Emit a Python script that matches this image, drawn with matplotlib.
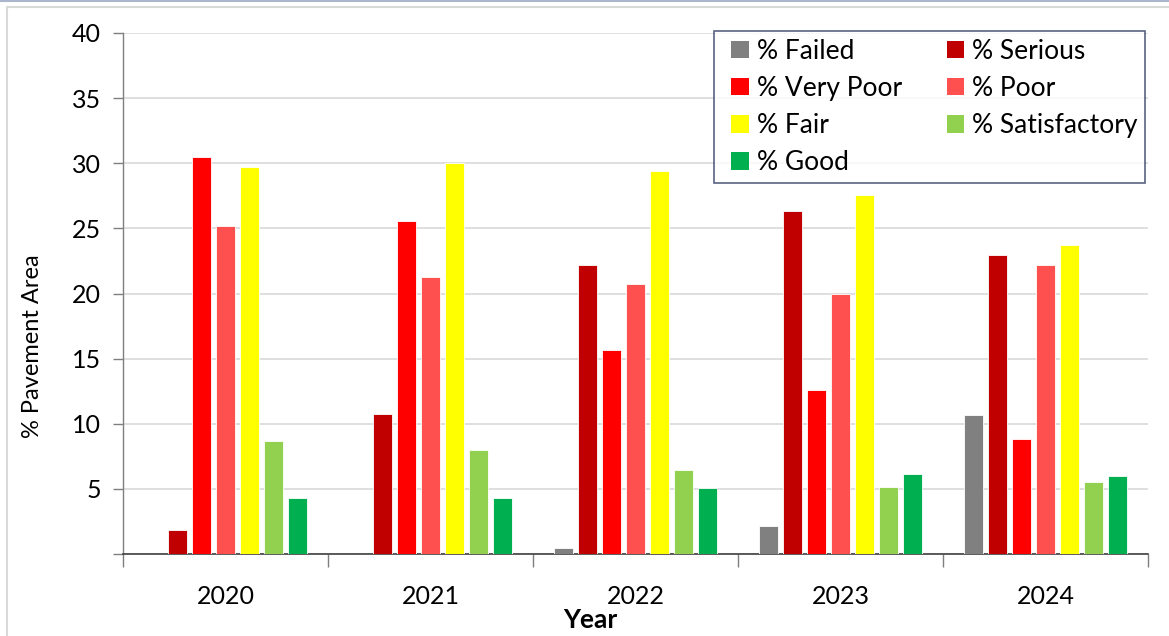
import numpy as np
import matplotlib.pyplot as plt
from matplotlib.patches import Rectangle, Patch
from matplotlib.lines import Line2D
from matplotlib.legend_handler import HandlerPatch

plt.rcParams['font.family'] = ['Lato', 'DejaVu Sans']

# data
years = ['2020', '2021', '2022', '2023', '2024']
labels = ['% Failed', '% Serious', '% Very Poor', '% Poor',
          '% Fair', '% Satisfactory', '% Good']
failed = [0.0, 0.0, 0.45, 2.15, 10.7]
serious = [1.85, 10.75, 22.2, 26.3, 22.95]
very_poor = [30.45, 25.6, 15.7, 12.6, 8.85]
poor = [25.2, 21.3, 20.7, 20.0, 22.2]
fair = [29.7, 30.0, 29.4, 27.6, 23.7]
satisfactory = [8.65, 8.0, 6.45, 5.15, 5.5]
good = [4.3, 4.3, 5.1, 6.15, 6.0]
colors = ['#808080', '#C00000', '#FF0000', '#FF5050',
          '#FFFF00', '#92D050', '#00B050']

series = [failed, serious, very_poor, poor, fair, satisfactory, good]

fig = plt.figure(figsize=(11.69, 6.36), dpi=100)
ax = fig.add_axes([123/1169, 1-554/636, (1148-123)/1169, (554-33)/636])

# screenshot frame
fig.patches.append(Rectangle((7/1169, -0.1), 1.2, 1-7/636+0.1,
                             transform=fig.transFigure, fill=False,
                             edgecolor='#D9D9D9', linewidth=1.5, zorder=0))
fig.lines.append(Line2D([0, 1], [0.999, 0.999], transform=fig.transFigure,
                        color='#A9B6CC', linewidth=1.5))

x = np.arange(len(years))
step = 24/205
width = 19/205
for i, (vals, c) in enumerate(zip(series, colors)):
    off = (i - 3) * step
    ax.bar(x + off, vals, width, color=c, edgecolor='white',
           linewidth=0.6, zorder=3)

ax.set_xlim(-0.5, 4.5)
ax.set_ylim(0, 40)
ax.set_yticks(np.arange(0, 41, 5))
ax.set_yticklabels([''] + [str(v) for v in range(5, 41, 5)])
ax.yaxis.grid(True, color='#D9D9D9', linewidth=1.2, zorder=0)
ax.tick_params(axis='y', labelsize=18, length=7, width=1, color='#7F7F7F',
               pad=9)

ax.set_xticks(np.arange(-0.5, 5, 1))
ax.set_xticklabels([])
ax.set_xticks(x, minor=True)
ax.set_xticklabels(years, minor=True)
ax.tick_params(axis='x', which='major', length=9, width=1, color='#7F7F7F')
ax.tick_params(axis='x', which='minor', length=0, labelsize=18, pad=22)

for s in ['top', 'right']:
    ax.spines[s].set_visible(False)
ax.spines['left'].set_color('#7F7F7F')
ax.spines['bottom'].set_color('#404040')
ax.spines['left'].set_linewidth(1)
ax.spines['bottom'].set_linewidth(1.2)

fig.text(33/1169, 1-346/636, '% Pavement Area', rotation=90,
         ha='center', va='center', fontsize=17)
fig.text(590/1169, 1-620/636, 'Year', ha='center', va='center',
         fontsize=19, fontweight='bold')


# square legend marker pushed to the right end of the handle box
def square(legend, orig_handle, xdescent, ydescent, width, height, fontsize):
    s = 0.65 * fontsize
    return Rectangle((-xdescent + width - s, -ydescent + (height - s) / 2),
                     s, s)


# legend, filled row by row like the original
order = [0, 2, 4, 6, 1, 3, 5]
handles = [Patch(facecolor=colors[i], edgecolor='none') for i in order]
leg = ax.legend(handles, [labels[i] for i in order], ncol=2,
                loc='upper right', bbox_to_anchor=(1145/1169, 1-31/636),
                bbox_transform=fig.transFigure, fontsize=19,
                frameon=True, fancybox=False, handlelength=1.0,
                handleheight=0.65, handletextpad=0.3, columnspacing=1.35,
                labelspacing=0.46, borderpad=0.3, borderaxespad=0,
                handler_map={Patch: HandlerPatch(patch_func=square)})
leg.get_frame().set_edgecolor('#2F3B63')
leg.get_frame().set_linewidth(1.2)

fig.savefig('out.png', dpi=100)
